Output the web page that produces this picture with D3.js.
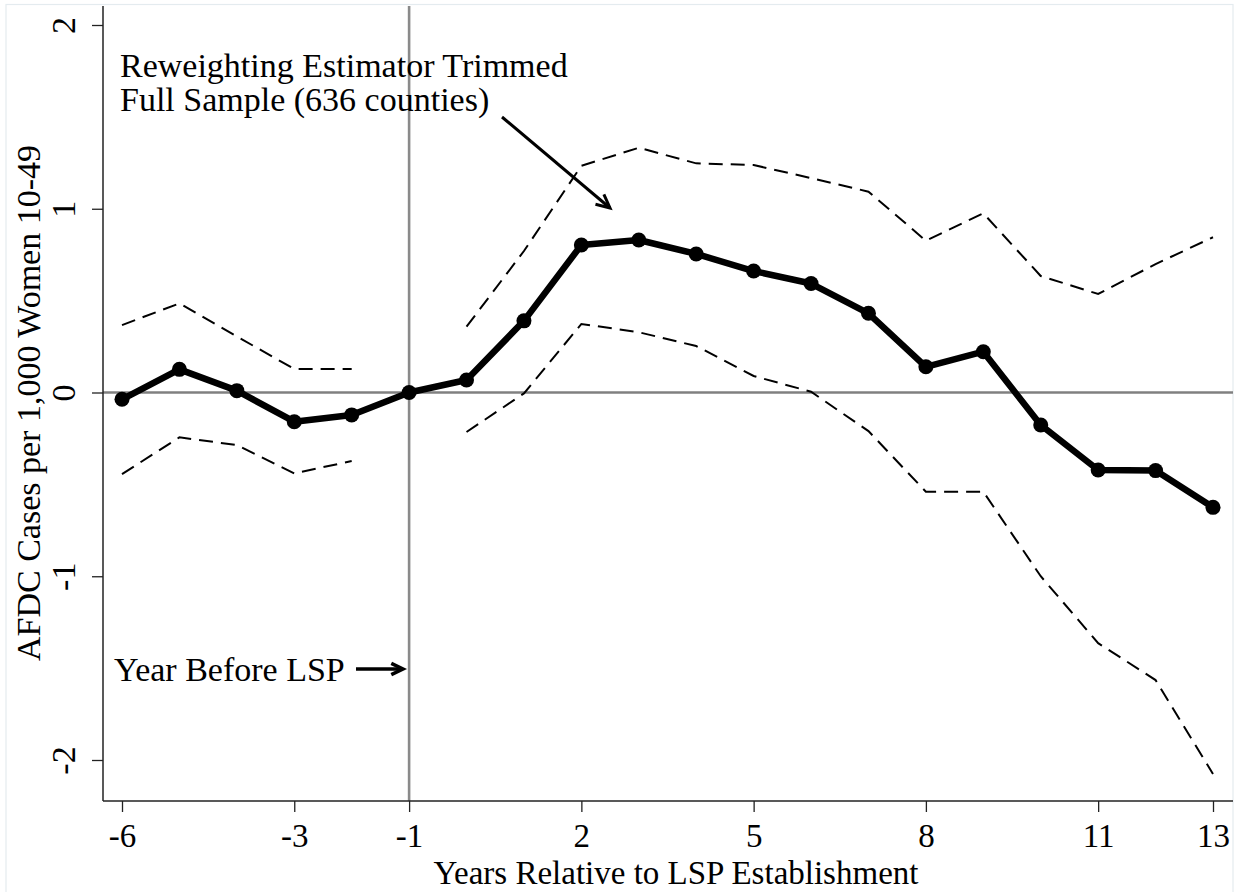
<!DOCTYPE html>
<html>
<head>
<meta charset="utf-8">
<script src="https://cdn.jsdelivr.net/npm/d3@7"></script>
<style>
  html, body { margin: 0; padding: 0; background: #fff; }
  text { font-family: "Liberation Serif", "Times New Roman", serif; fill: #000; }
</style>
</head>
<body>
<svg id="chart" width="1241" height="892"></svg>
<script>
// ---- data ----
const years = [-6, -5, -4, -3, -2, -1, 0, 1, 2, 3, 4, 5, 6, 7, 8, 9, 10, 11, 12, 13];
const estimate = [-0.037, 0.126, 0.01, -0.159, -0.122, 0, 0.068, 0.39, 0.803, 0.83, 0.754, 0.661, 0.593, 0.431, 0.14, 0.222, -0.177, -0.422, -0.425, -0.625];
const upperCI = [0.367, 0.485, 0.305, 0.128, 0.128, null, 0.358, 0.77, 1.234, 1.332, 1.247, 1.238, 1.167, 1.093, 0.826, 0.975, 0.634, 0.536, 0.699, 0.845];
const lowerCI = [-0.444, -0.244, -0.286, -0.44, -0.373, null, -0.215, -0.005, 0.373, 0.328, 0.253, 0.09, 0.004, -0.21, -0.54, -0.54, -1.0, -1.364, -1.565, -2.076];
const xTicks = [-6, -3, -1, 2, 5, 8, 11, 13];
const yTicks = [-2, -1, 0, 1, 2];
const xTitle = "Years Relative to LSP Establishment";
const yTitle = "AFDC Cases per 1,000 Women 10-49";
const noteLines = ["Reweighting Estimator Trimmed", "Full Sample (636 counties)"];
const yearNote = "Year Before LSP";
const refYear = -1;

// ---- layout ----
const svg = d3.select("#chart");
const plot = { left: 103, right: 1233, top: 6, bottom: 801 };
const x = d3.scaleLinear().domain([-6, 13]).range([122, 1213]);
const y = d3.scaleLinear().domain([-2, 2]).range([760, 25]);
const FS = 34;

// outer graph region border
svg.append("rect").attr("x", 6).attr("y", 4.5).attr("width", 1227).attr("height", 900)
  .attr("fill", "none").attr("stroke", "#e4ebef").attr("stroke-width", 1.2);

// reference lines
svg.append("line").attr("x1", plot.left).attr("x2", plot.right)
  .attr("y1", y(0)).attr("y2", y(0)).attr("stroke", "#808080").attr("stroke-width", 2.6);
svg.append("line").attr("x1", x(refYear)).attr("x2", x(refYear))
  .attr("y1", plot.top).attr("y2", plot.bottom).attr("stroke", "#8a8a8a").attr("stroke-width", 2.6);

// axes
const xAxis = d3.axisBottom(x).tickValues(xTicks).tickSize(11).tickSizeOuter(0).tickFormat(d3.format("d"));
const gx = svg.append("g").attr("transform", `translate(0,${plot.bottom})`).call(xAxis);
gx.select(".domain").remove();
gx.selectAll(".tick line").attr("stroke", "#222").attr("stroke-width", 1.3);
gx.selectAll(".tick text").attr("y", 46).attr("dy", 0)
  .style("font-family", '"Liberation Serif", serif').style("font-size", "33px").attr("fill", "#000")
  .text(d => d < 0 ? "-" + Math.abs(d) : d);

const yAxis = d3.axisLeft(y).tickValues(yTicks).tickSize(11).tickSizeOuter(0);
const gy = svg.append("g").attr("transform", `translate(${plot.left},0)`).call(yAxis);
gy.select(".domain").remove();
gy.selectAll(".tick line").attr("stroke", "#222").attr("stroke-width", 1.3);
gy.selectAll(".tick text").attr("x", 0).attr("dy", 0)
  .attr("text-anchor", "middle")
  .attr("transform", "translate(-28,0) rotate(-90)")
  .style("font-family", '"Liberation Serif", serif').style("font-size", FS + "px").attr("fill", "#000")
  .text(d => d < 0 ? "-" + Math.abs(d) : d);

svg.append("line").attr("x1", plot.left).attr("x2", plot.right).attr("y1", plot.bottom).attr("y2", plot.bottom)
  .attr("stroke", "#222").attr("stroke-width", 1.5);
svg.append("line").attr("x1", plot.left).attr("x2", plot.left).attr("y1", plot.top).attr("y2", plot.bottom)
  .attr("stroke", "#222").attr("stroke-width", 1.5);

// axis titles
svg.append("text").attr("x", 676).attr("y", 884).attr("text-anchor", "middle")
  .style("font-size", "33px").text(xTitle);
svg.append("text").attr("transform", "translate(40,403) rotate(-90)").attr("text-anchor", "middle")
  .style("font-size", FS + "px").text(yTitle);

// CI dashed lines
const dashLine = d3.line().defined(d => d[1] !== null).x(d => x(d[0])).y(d => y(d[1]));
[upperCI, lowerCI].forEach(arr => {
  svg.append("path").datum(years.map((yr, i) => [yr, arr[i]]))
    .attr("d", dashLine).attr("fill", "none").attr("stroke", "#000")
    .attr("stroke-width", 2).attr("stroke-dasharray", "14,8");
});

// main estimate line
const mainLine = d3.line().x(d => x(d[0])).y(d => y(d[1]));
const pts = years.map((yr, i) => [yr, estimate[i]]);
svg.append("path").datum(pts).attr("d", mainLine).attr("fill", "none")
  .attr("stroke", "#000").attr("stroke-width", 6.5).attr("stroke-linejoin", "round");
svg.selectAll("circle.pt").data(pts).enter().append("circle").attr("class", "pt")
  .attr("cx", d => x(d[0])).attr("cy", d => y(d[1])).attr("r", 7.5).attr("fill", "#000");

// annotations
const note = svg.append("text").style("font-size", FS + "px");
noteLines.forEach((t, i) => note.append("tspan").attr("x", 120).attr("y", 77 + i * 34).text(t));

svg.append("text").attr("x", 114).attr("y", 681).style("font-size", FS + "px").text(yearNote);

function arrow(x1, y1, x2, y2, head, w) {
  const ang = Math.atan2(y2 - y1, x2 - x1);
  svg.append("line").attr("x1", x1).attr("y1", y1).attr("x2", x2).attr("y2", y2)
    .attr("stroke", "#000").attr("stroke-width", w);
  const a1 = ang + Math.PI - 0.45, a2 = ang + Math.PI + 0.45;
  svg.append("path")
    .attr("d", `M${x2 + head * Math.cos(a1)},${y2 + head * Math.sin(a1)} L${x2},${y2} L${x2 + head * Math.cos(a2)},${y2 + head * Math.sin(a2)}`)
    .attr("fill", "none").attr("stroke", "#000").attr("stroke-width", w).attr("stroke-linejoin", "miter");
}
arrow(502, 117, 610, 208, 15, 3);
arrow(356, 669, 403, 669, 13, 3.5);
</script>
</body>
</html>
